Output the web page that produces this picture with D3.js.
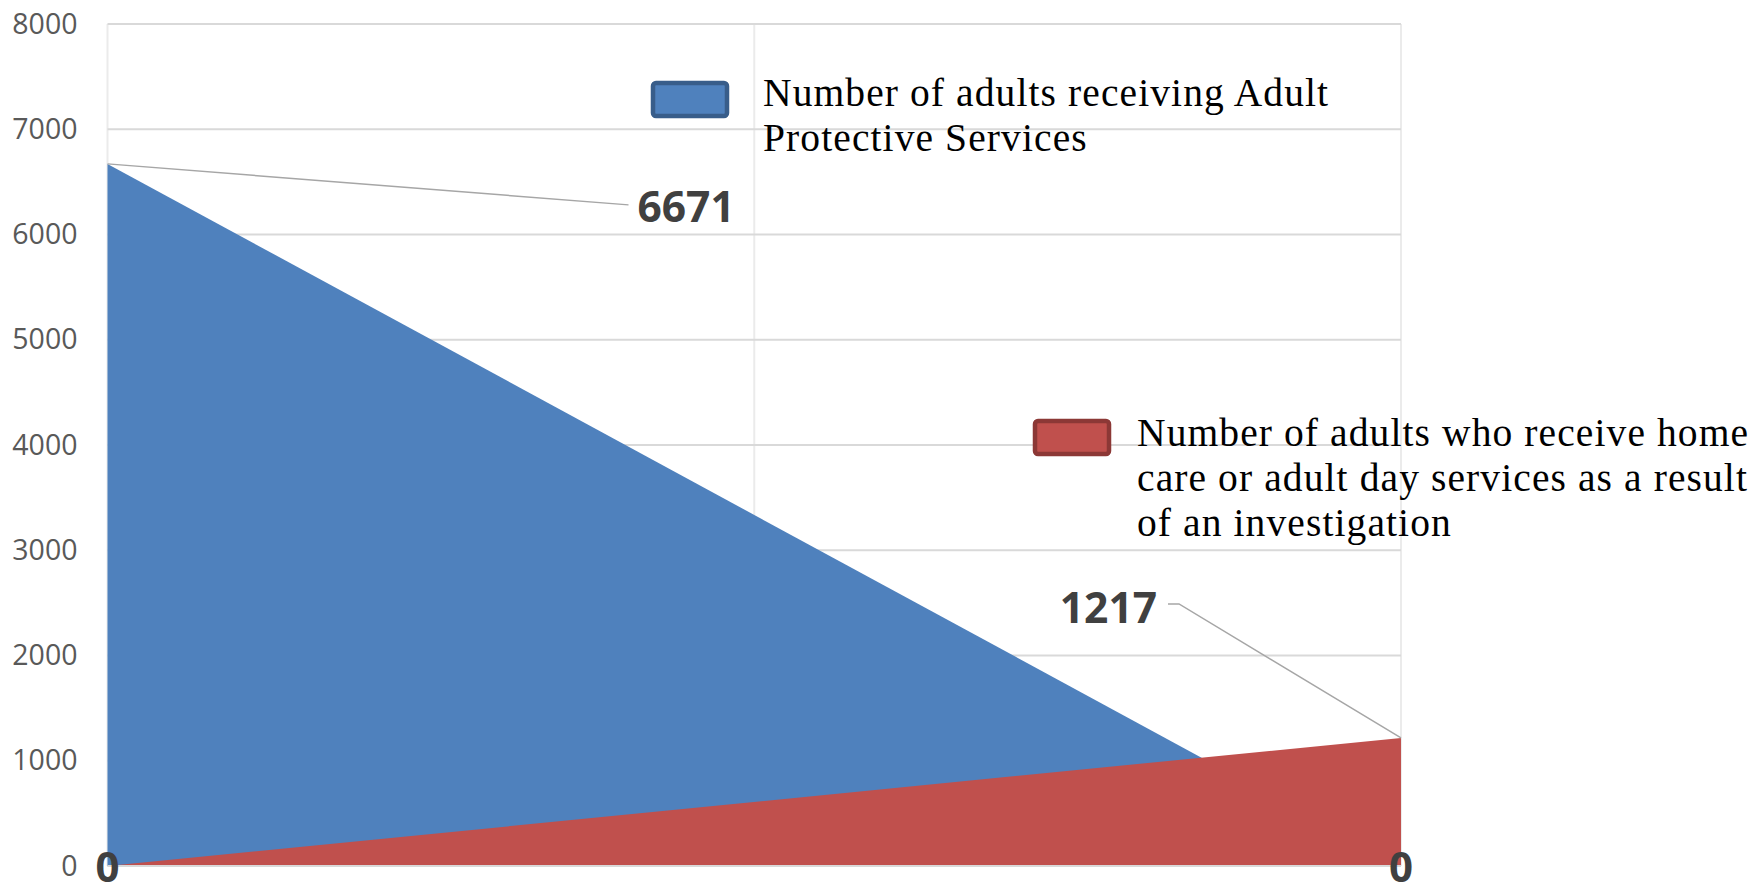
<!DOCTYPE html>
<html>
<head>
<meta charset="utf-8">
<script src="https://cdn.jsdelivr.net/npm/d3@7"></script>
<style>
  html, body { margin: 0; padding: 0; background: #ffffff; }
  svg { display: block; }
</style>
</head>
<body>
<svg id="chart" width="1756" height="885"></svg>
<script>
// ---- data ----
const categories = ["0", "0"];
const seriesNames = [
  "Number of adults receiving Adult Protective Services",
  "Number of adults who receive home care or adult day services as a result of an investigation"
];
const apsValues = [6671, 0];
const homeCareValues = [0, 1217];
const yTicks = [0, 1000, 2000, 3000, 4000, 5000, 6000, 7000, 8000];
const legendLinesAps = ["Number of adults receiving Adult", "Protective Services"];
const legendLinesHome = ["Number of adults who receive home", "care or adult day services as a result", "of an investigation"];

(function () {
// ---- layout ----
const svg = d3.select("#chart");
const pLeft = 107.5, pRight = 1401, pTop = 24, pBottom = 866;
const x = d3.scaleLinear().domain([0, categories.length - 1]).range([pLeft, pRight]);
const y = d3.scaleLinear().domain([0, 8000]).range([pBottom, pTop]);

const blue = "#4f81bd", blueDark = "#385d8a";
const red = "#c0504d", redDark = "#8c3836";

// vertical gridlines
const vGrid = [0, 0.5, 1];
svg.append("g").selectAll("line").data(vGrid).join("line")
  .attr("x1", d => x(d)).attr("x2", d => x(d))
  .attr("y1", y(8000)).attr("y2", y(0))
  .attr("stroke", "#ebebeb").attr("stroke-width", 2);

// horizontal gridlines
svg.append("g").selectAll("line").data(yTicks).join("line")
  .attr("x1", pLeft).attr("x2", pRight)
  .attr("y1", d => y(d)).attr("y2", d => y(d))
  .attr("stroke", "#d9d9d9").attr("stroke-width", 2);

// y-axis labels
const yAxis = d3.axisLeft(y).tickValues(yTicks).tickSize(0).tickPadding(30).tickFormat(d3.format("d"));
const gy = svg.append("g").attr("transform", `translate(${pLeft},0)`).call(yAxis);
gy.select(".domain").remove();
gy.selectAll("text")
  .attr("font-family", "'Open Sans', 'Liberation Sans', sans-serif")
  .attr("font-size", 28.5)
  .attr("fill", "#595959");

// areas
const area = d3.area()
  .x((d, i) => x(i))
  .y0(y(0))
  .y1(d => y(d));

svg.append("path").datum(apsValues).attr("d", area).attr("fill", blue);
svg.append("path").datum(homeCareValues).attr("d", area).attr("fill", red);

// axis line at bottom (light)
svg.append("line")
  .attr("x1", pLeft).attr("x2", pRight).attr("y1", y(0)).attr("y2", y(0))
  .attr("stroke", "#d9d9d9").attr("stroke-width", 2);

// category labels
svg.append("g").selectAll("text").data(categories).join("text")
  .attr("x", (d, i) => x(i))
  .attr("y", y(0) + 16)
  .attr("text-anchor", "middle")
  .attr("font-family", "'Open Sans', 'Liberation Sans', sans-serif")
  .attr("font-weight", "bold")
  .attr("font-size", 42)
  .attr("fill", "#404040")
  .text(d => d);

// data label leaders and labels
const labelFont = "'Open Sans', 'Liberation Sans', sans-serif";
const p1 = [x(0), y(apsValues[0])];
svg.append("polyline")
  .attr("points", [p1, [p1[0] + 521, p1[1] + 41]].map(p => p.join(",")).join(" "))
  .attr("fill", "none").attr("stroke", "#a6a6a6").attr("stroke-width", 1.5);
svg.append("text")
  .attr("x", p1[0] + 530).attr("y", p1[1] + 58)
  .attr("font-family", labelFont).attr("font-weight", "bold").attr("font-size", 42.5)
  .attr("fill", "#404040")
  .text(apsValues[0]);

const p2 = [x(1), y(homeCareValues[1])];
svg.append("polyline")
  .attr("points", [p2, [p2[0] - 222, p2[1] - 134], [p2[0] - 233, p2[1] - 134]].map(p => p.join(",")).join(" "))
  .attr("fill", "none").attr("stroke", "#a6a6a6").attr("stroke-width", 1.5);
svg.append("text")
  .attr("x", p2[0] - 244).attr("y", p2[1] - 115)
  .attr("text-anchor", "end")
  .attr("font-family", labelFont).attr("font-weight", "bold").attr("font-size", 42.5)
  .attr("fill", "#404040")
  .text(homeCareValues[1]);

// legends
const legendFont = "'Liberation Serif', 'DejaVu Serif', serif";
function legend(sx, sy, fill, stroke, tx, ty, lines, name) {
  const g = svg.append("g").attr("class", "legend").attr("data-series", name);
  g.append("rect")
    .attr("x", sx + 2).attr("y", sy + 2).attr("width", 74).attr("height", 33)
    .attr("rx", 3).attr("ry", 3)
    .attr("fill", fill).attr("stroke", stroke).attr("stroke-width", 4.5);
  const t = g.append("text")
    .attr("font-family", legendFont).attr("font-size", 39.5)
    .attr("letter-spacing", "1.1px").attr("fill", "#000");
  lines.forEach((ln, i) => {
    t.append("tspan").attr("x", tx).attr("y", ty + i * 45).text(ln);
  });
}
legend(651, 81, blue, blueDark, 763, 106, legendLinesAps, seriesNames[0]);
legend(1033, 419, red, redDark, 1137, 446, legendLinesHome, seriesNames[1]);
})();
</script>
</body>
</html>
